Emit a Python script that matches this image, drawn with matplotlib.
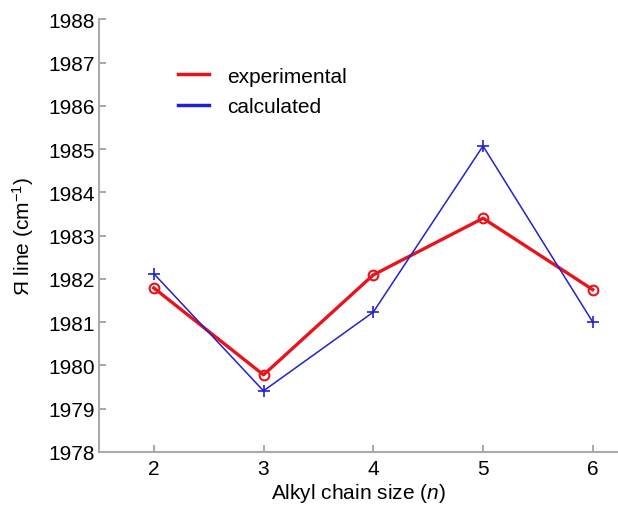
import matplotlib
matplotlib.use("Agg")
import matplotlib.pyplot as plt

plt.rcParams['font.family'] = ['Liberation Sans', 'DejaVu Sans']
plt.rcParams['mathtext.fontset'] = 'custom'
plt.rcParams['mathtext.rm'] = 'Liberation Sans'
plt.rcParams['mathtext.it'] = 'Liberation Sans:italic'

n = [2, 3, 4, 5, 6]
experimental = [1981.79, 1979.78, 1982.09, 1983.40, 1981.75]
calculated = [1982.12, 1979.41, 1981.23, 1985.07, 1981.00]
yticks = list(range(1978, 1989))

fig = plt.figure(figsize=(6.18, 5.06), dpi=100)
ax = fig.add_axes([0.160, 0.105, 0.840, 0.855])

ax.plot(n, experimental, color='#e8141c', lw=2.4, marker='o', ms=7,
        mfc='none', mec='#e8141c', mew=1.5, label='experimental')
ax.plot(n, calculated, color='#2222cc', lw=1.1, marker='+', ms=8,
        mew=1.2, label='calculated')

ax.set_xlim(1.5, 6.23)
ax.set_ylim(1978, 1988)
ax.set_xticks(n)
ax.set_yticks(yticks)
ax.tick_params(direction='in', labelsize=15, color='#999999', length=5,
               width=1.2, pad=5)
ax.tick_params(axis='y', pad=3)
for s in ['top', 'right']:
    ax.spines[s].set_visible(False)
for s in ['left', 'bottom']:
    ax.spines[s].set_color('#aaaaaa')
    ax.spines[s].set_linewidth(1.5)

ax.set_xlabel('Alkyl chain size ($n$)', fontsize=15, labelpad=2)
ax.set_ylabel('Я line (cm$^{-1}$)', fontsize=15, labelpad=9)

leg = ax.legend(loc='upper left', bbox_to_anchor=(0.117, 0.934), frameon=False,
                fontsize=15, handlelength=1.45, handletextpad=0.9,
                labelspacing=0.55)
for h in leg.legend_handles:
    h.set_marker('')
    h.set_linewidth(2.5)

fig.savefig('out.png', dpi=100)
